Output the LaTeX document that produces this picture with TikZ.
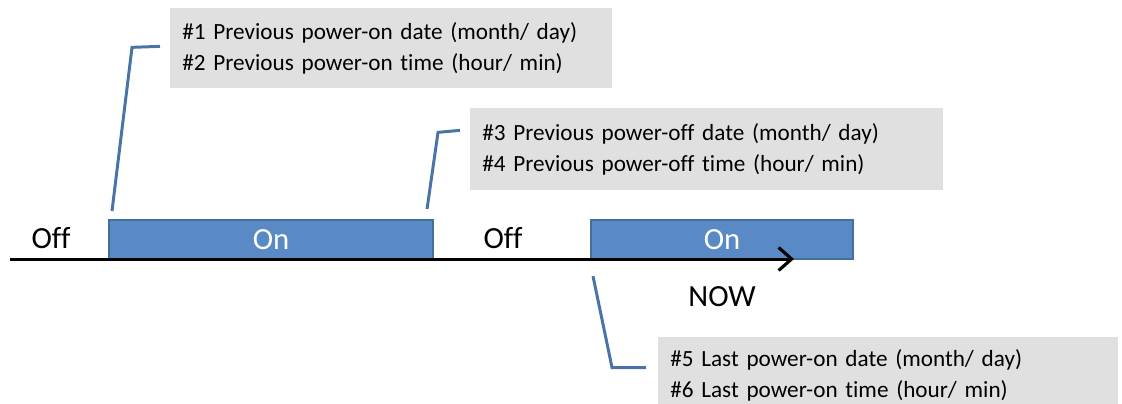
\documentclass[tikz,border=0pt]{standalone}
\usepackage{fontspec}
\setmainfont{Carlito}[Ligatures=NoCommon]
\usetikzlibrary{arrows.meta,positioning,calc}
\definecolor{Ink}{HTML}{000000}
\definecolor{OnFill}{HTML}{5A8AC6}
\definecolor{OnEdge}{HTML}{41719C}
\definecolor{Note}{HTML}{E0E0E0}
\definecolor{Lead}{HTML}{4A74A5}

\begin{document}
\begin{tikzpicture}[x=0.02cm,y=-0.02cm,font=\fontsize{17.5}{20}\selectfont,
 onbox/.style={draw=OnEdge,fill=OnFill,line width=1.2pt,text=white,anchor=north west,minimum height=0.78cm,inner sep=0pt},
 note/.style={fill=Note,anchor=north west,align=left,inner sep=0.24cm,font=\fontsize{13.2}{18}\selectfont},
 lead/.style={draw=Lead,line width=1.7pt},
 axis/.style={->,line width=1.7pt,draw=Ink,>={Straight Barb[length=2.6mm,width=4.6mm,line width=1.8pt]}}]
 \useasboundingbox (0,0) rectangle (1122,403);
 \node[onbox,minimum width=6.48cm] (on1) at (108,219) {On};
 \node[onbox,minimum width=5.24cm] (on2) at (590,219) {On};
 \coordinate (start) at (10,259);
 \coordinate (tip) at (794,259);
 \draw[axis] (start) -- (tip);
 \node (off1) at (51,238) {Off};
 \node (off2) at (503,238) {Off};
 \node (now) at (722,297) {NOW};
 \node[note,text width=8.36cm,minimum height=1.6cm] (note1) at (170,8) {\#1 Previous power-on date (month/ day)\\\#2 Previous power-on time (hour/ min)};
 \node[note,text width=8.98cm,minimum height=1.64cm] (note2) at (470,108) {\#3 Previous power-off date (month/ day)\\\#4 Previous power-off time (hour/ min)};
 \node[note,text width=8.72cm,minimum height=1.26cm] (note3) at (658,337) {\#5 Last power-on date (month/ day)\\\#6 Last power-on time (hour/ min)};
 \draw[lead] ([shift={(4,-8)}]on1.north west) -- ($(note1.west)+(-38,-1)$) -- ($(note1.west)+(-10,-2)$);
 \draw[lead] ([shift={(-7,-10)}]on1.north east) -- ($(note2.west)+(-32,-17)$) -- ($(note2.west)+(-10,-19)$);
 \draw[lead] ([shift={(3,16)}]on2.south west) -- ($(note3.west)+(-46,-8)$) -- ($(note3.west)+(-12,-8)$);
\end{tikzpicture}
\end{document}
